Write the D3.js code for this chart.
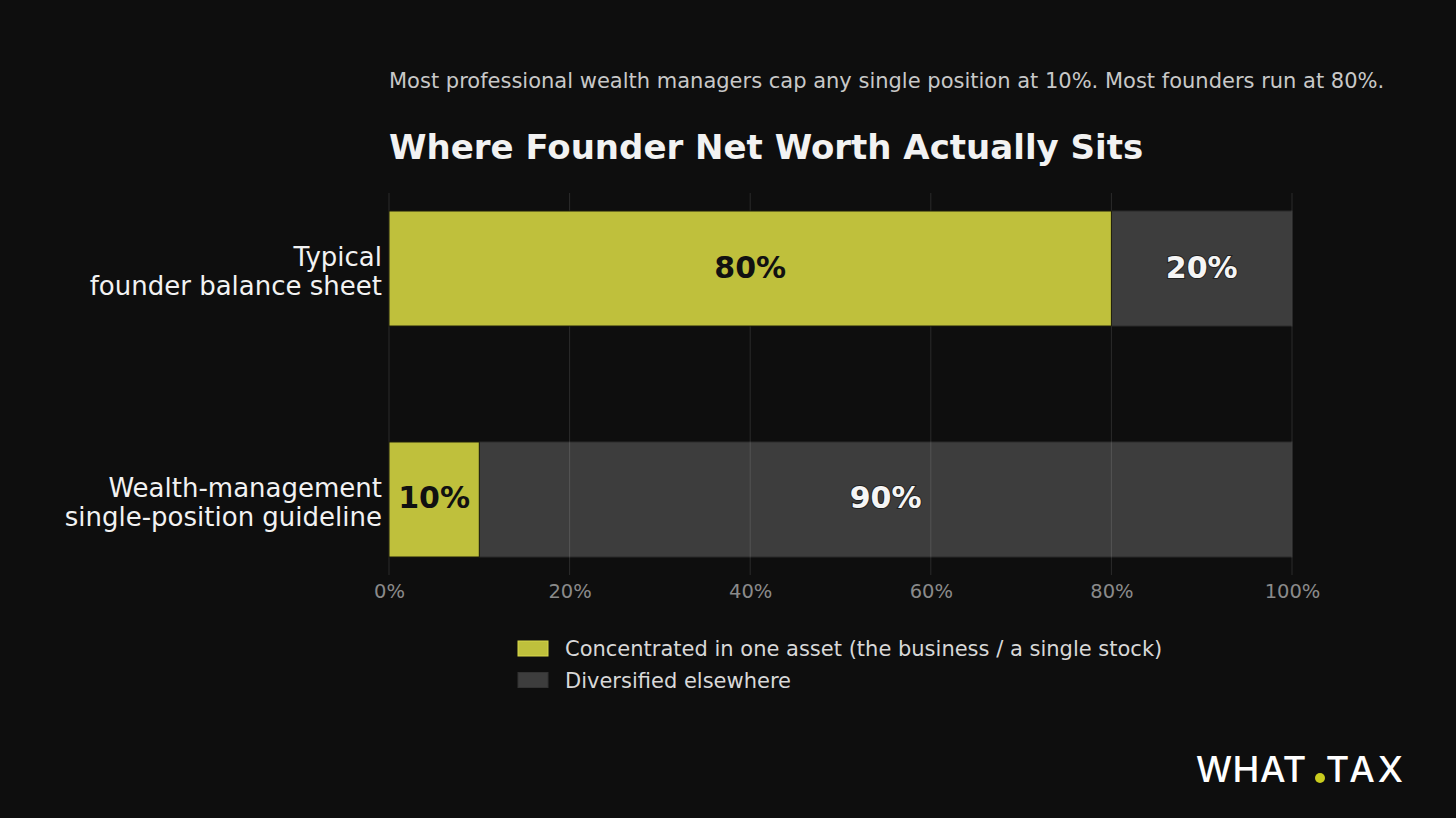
<!DOCTYPE html>
<html>
<head>
<meta charset="utf-8">
<script src="https://cdn.jsdelivr.net/npm/d3@7"></script>
<style>
  html, body { margin: 0; padding: 0; background: #0e0e0e; }
  svg { display: block; font-family: "DejaVu Sans", sans-serif; }
</style>
</head>
<body>
<div id="chart"></div>
<script>
(function(d3) {
    "use strict";

    var categories = [
        ["Typical", "founder balance sheet"],
        ["Wealth-management", "single-position guideline"]
    ];
    var concentrated = [80, 10];
    var diversified = [20, 90];
    var seriesNames = ["Concentrated in one asset (the business / a single stock)", "Diversified elsewhere"];
    var tickValues = [0, 20, 40, 60, 80, 100];

    var W = 1456, H = 818;
    var margin = { top: 193, left: 389, right: 164 };
    var yellow = "#bfc03c", grey = "#3d3d3d", bg = "#0e0e0e";

    var svg = d3.select("#chart").append("svg")
        .attr("width", W)
        .attr("height", H);

    svg.append("rect").attr("width", W).attr("height", H).attr("fill", bg);

    var x = d3.scaleLinear()
        .domain([0, 100])
        .range([margin.left, W - margin.right]);

    var y = d3.scaleBand()
        .domain(d3.range(categories.length))
        .range([211, 557])
        .paddingInner(0.502)
        .paddingOuter(0);

    // subtitle + title
    svg.append("text")
        .attr("x", margin.left).attr("y", 87.5)
        .attr("fill", "#c8c8c8")
        .style("font-size", "21px")
        .text("Most professional wealth managers cap any single position at 10%. Most founders run at 80%.");

    svg.append("text")
        .attr("x", margin.left).attr("y", 159)
        .attr("fill", "#f2f2f2")
        .style("font-size", "34px")
        .style("font-weight", "bold")
        .text("Where Founder Net Worth Actually Sits");

    // diversified (grey) segments first, grid over them, then yellow
    svg.append("g").selectAll("rect")
        .data(diversified)
        .join("rect")
        .attr("x", (d, i) => x(concentrated[i]))
        .attr("y", (d, i) => y(i))
        .attr("width", (d, i) => x(concentrated[i] + d) - x(concentrated[i]))
        .attr("height", y.bandwidth())
        .attr("fill", grey)
        .attr("stroke", "#2a2a2a")
        .attr("stroke-width", 1);

    var gridBottom = 575;
    svg.append("g").selectAll("line")
        .data(tickValues)
        .join("line")
        .attr("x1", d => x(d)).attr("x2", d => x(d))
        .attr("y1", margin.top).attr("y2", gridBottom)
        .attr("stroke", "#ffffff")
        .attr("stroke-opacity", 0.12)
        .attr("stroke-width", 1);

    svg.append("g").selectAll("rect")
        .data(concentrated)
        .join("rect")
        .attr("x", x(0))
        .attr("y", (d, i) => y(i))
        .attr("width", d => x(d) - x(0))
        .attr("height", y.bandwidth())
        .attr("fill", yellow)
        .attr("stroke", "#1a1a0a")
        .attr("stroke-width", 1);

    // bar labels
    var labels = svg.append("g")
        .style("font-size", "30px")
        .style("font-weight", "bold")
        .attr("text-anchor", "middle");

    labels.selectAll("text.c")
        .data(concentrated)
        .join("text")
        .attr("class", "c")
        .attr("x", d => x(d / 2))
        .attr("y", (d, i) => y(i) + y.bandwidth() / 2)
        .attr("dy", "0.3em")
        .attr("fill", "#111111")
        .attr("stroke", "#bfc03c")
        .attr("stroke-width", 0.8)
        .attr("paint-order", "stroke")
        .text(d => d + "%");

    labels.selectAll("text.d")
        .data(diversified)
        .join("text")
        .attr("class", "d")
        .attr("x", (d, i) => x(concentrated[i] + d / 2))
        .attr("y", (d, i) => y(i) + y.bandwidth() / 2)
        .attr("dy", "0.3em")
        .attr("fill", "#f5f5f5")
        .attr("stroke", "#222")
        .attr("stroke-width", 2)
        .attr("paint-order", "stroke")
        .text(d => d + "%");

    // category labels
    var cats = svg.append("g")
        .attr("text-anchor", "end")
        .attr("fill", "#f2f2f2")
        .style("font-size", "26px");

    cats.selectAll("text")
        .data(categories)
        .join("text")
        .attr("x", margin.left - 7)
        .attr("y", (d, i) => y(i) + y.bandwidth() / 2)
        .each(function(d) {
            var t = d3.select(this);
            d.forEach(function(line, j) {
                t.append("tspan")
                    .attr("x", margin.left - 7)
                    .attr("dy", j === 0 ? "-0.08em" : "1.1em")
                    .text(line);
            });
        });

    // x axis
    var xAxis = d3.axisBottom(x)
        .tickValues(tickValues)
        .tickFormat(d => d + "%")
        .tickSize(0)
        .tickPadding(0);

    var ax = svg.append("g")
        .attr("transform", "translate(0," + 584 + ")")
        .call(xAxis);
    ax.select(".domain").remove();
    ax.selectAll("text")
        .attr("fill", "#8a8a8a")
        .style("font-family", "DejaVu Sans, sans-serif")
        .style("font-size", "19.5px")
        .attr("dy", "0.71em");

    // legend
    var legend = svg.append("g")
        .attr("transform", "translate(518,641)");
    var li = legend.selectAll("g")
        .data(seriesNames)
        .join("g")
        .attr("transform", (d, i) => "translate(0," + i * 31.5 + ")");
    li.append("rect")
        .attr("width", 30).attr("height", 15)
        .attr("fill", (d, i) => i === 0 ? yellow : grey)
        .attr("stroke", (d, i) => i === 0 ? "#d8d84a" : "#333")
        .attr("stroke-width", 1);
    li.append("text")
        .attr("x", 47).attr("y", 8)
        .attr("dy", "0.35em")
        .attr("fill", "#d8d8d8")
        .style("font-size", "21px")
        .text(d => d);

    // logo
    var logo = svg.append("g")
        .attr("fill", "#ffffff")
        .style("font-family", "Inter, 'Open Sans', sans-serif")
        .style("font-size", "36px")
        .style("font-weight", 500);
    logo.append("text")
        .attr("x", 1196).attr("y", 782)
        .style("letter-spacing", "0.5px")
        .text("WHAT");
    logo.append("circle")
        .attr("cx", 1320).attr("cy", 778)
        .attr("r", 5)
        .attr("fill", "#c9cc1e");
    logo.append("text")
        .attr("x", 1406).attr("y", 782)
        .attr("text-anchor", "end")
        .style("letter-spacing", "3px")
        .text("TAX");

})(d3);
</script>
</body>
</html>
